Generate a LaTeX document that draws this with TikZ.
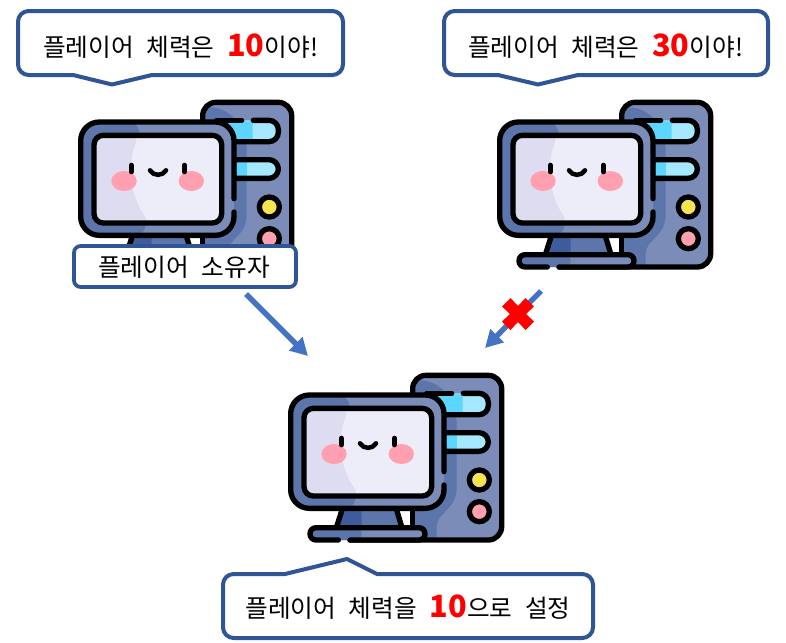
\documentclass[tikz,border=0pt]{standalone}
\usepackage{fontspec}
\usetikzlibrary{arrows.meta}
\setmainfont[WordSpace=2.3]{Noto Sans CJK KR}
\definecolor{slateL}{HTML}{7B8CB8}
\definecolor{slateD}{HTML}{5C76AB}
\definecolor{slateX}{HTML}{3E5C9C}
\definecolor{cyanL}{HTML}{A5E8FF}
\definecolor{cyanD}{HTML}{5CD5FF}
\definecolor{scrL}{HTML}{EDECF9}
\definecolor{scrD}{HTML}{DEDCF0}
\definecolor{cheek}{HTML}{FF9FB0}
\definecolor{btnY}{HTML}{F7E34F}
\definecolor{boxline}{HTML}{2F5597}
\definecolor{arrowblue}{HTML}{4472C4}
\newcommand{\bignum}[1]{{\fontsize{23}{26}\selectfont\bfseries\color{red}#1}}
\tikzset{
 ln/.style={draw=black,line width=4pt,line cap=round,line join=round},
 callout/.style={draw=boxline,line width=3pt,fill=white,line join=round},
 txt/.style={font=\fontsize{18.5}{20}\selectfont,inner sep=0pt,anchor=base},
 flowarrow/.style={draw=arrowblue,line width=4pt,-{Triangle[width=13.5pt,length=13pt]}},
 pcicon/.pic={
  \begin{scope}[x=0.25pt,y=-0.25pt]
  % tower
  \fill[slateL,rounded corners=10pt] (428,46) rectangle (695,540);
  \fill[slateD] (428,62) .. controls (500,50) and (560,110) .. (560,190) -- (560,390) .. controls (555,450) and (500,460) .. (500,500) -- (500,540) -- (428,540) -- cycle;
  % drives
  \fill[cyanL,rounded corners=5pt] (500,100) rectangle (655,164);
  \fill[cyanD] (500,103) -- (578,103) -- (578,160) -- (530,160) -- cycle;
  \fill[slateD] (500,103) -- (530,160) -- (500,160) -- cycle;
  \fill[cyanL,rounded corners=5pt] (530,218) rectangle (655,274);
  \fill[cyanD] (530,220) rectangle (560,272);
  \draw[ln,rounded corners=7pt] (580,100) -- (655,100) -- (655,164) -- (530,164);
  \draw[ln] (470,100) -- (545,100);
  \draw[ln,rounded corners=7pt] (530,218) -- (655,218) -- (655,274) -- (530,274);
  % buttons
  \draw[ln,fill=btnY] (628,360) circle[radius=30];
  \draw[ln,fill=cheek] (628,455) circle[radius=30];
  % tower outline
  \draw[ln,rounded corners=10pt] (428,100) -- (428,46) -- (695,46) -- (695,540) -- (240,540);
  \draw[ln] (428,445) -- (428,510);
  % stand
  \fill[slateD] (215,450) -- (380,450) -- (395,500) -- (200,500) -- cycle;
  \fill[slateX] (215,450) -- (275,450) -- (275,500) -- (200,500) -- cycle;
  \draw[ln] (216,450) -- (200,500);
  \draw[ln] (380,450) -- (395,500);
  % base
  \fill[slateL,rounded corners=4pt] (120,503) rectangle (465,540);
  \fill[slateD,rounded corners=4pt] (120,503) rectangle (275,540);
  \draw[ln,rounded corners=4.5pt] (205,540) -- (120,540) -- (120,503) -- (465,503) -- (465,540) -- (240,540);
  % monitor
  \fill[slateL,rounded corners=14pt] (62,105) rectangle (522,445);
  \fill[slateD,rounded corners=14pt] (62,105) -- (255,105) .. controls (225,180) and (215,320) .. (275,445) -- (62,445) -- cycle;
  \draw[ln,rounded corners=14pt] (522,335) -- (522,105) -- (62,105) -- (62,445) -- (522,445) -- (522,375);
  % screen
  \fill[scrL,rounded corners=7pt] (102,145) rectangle (485,408);
  \fill[scrD,rounded corners=7pt] (102,145) -- (238,145) .. controls (205,220) and (205,320) .. (270,408) -- (102,408) -- cycle;
  \draw[ln,rounded corners=7pt] (102,145) rectangle (485,408);
  % face
  \fill[cheek] (192,282) ellipse[x radius=38,y radius=30];
  \fill[cheek] (394,282) ellipse[x radius=38,y radius=30];
  \draw[ln,line width=4pt] (214,235) -- (214,254);
  \draw[ln,line width=4pt] (373,235) -- (373,254);
  \draw[ln,line width=3.4pt] (270,250) .. controls (280,268) and (308,268) .. (318,250);
  \end{scope}
 }
}
\begin{document}
\begin{tikzpicture}[x=0.75pt,y=-0.75pt]
\useasboundingbox (0,0) rectangle (786,643);
\fill[white] (0,0) rectangle (786,643);
% icons
\pic at (60,87) {pcicon};
\pic at (479,87) {pcicon};
\pic at (270,360) {pcicon};
% callouts
\draw[callout,rounded corners=8pt] (73,75) -- (18,75) -- (18,11) -- (343,11) -- (343,75) -- (200,75) [sharp corners] -- (152,75) -- (112,84.5) -- cycle;
\node[txt] (c1) at (180.5,56) {플레이어 체력은 \bignum{10}이야!};
\draw[callout,rounded corners=8pt] (498,75) -- (444,75) -- (444,11) -- (768,11) -- (768,75) -- (630,75) [sharp corners] -- (578,75) -- (538,84.5) -- cycle;
\node[txt] (c2) at (605.5,56) {플레이어 체력은 \bignum{30}이야!};
\draw[callout,rounded corners=8pt] (377,574) -- (593,574) -- (593,638) -- (223,638) -- (223,574) -- (260,574) [sharp corners] -- (285,574) -- (347,559) -- cycle;
\node[txt] (c3) at (408,617.5) {플레이어 체력을 \bignum{10}으로 설정};
% owner label
\draw[draw=boxline,line width=2.8pt,fill=white,rounded corners=5pt] (74,246) rectangle (296,287);
\node[txt] (owner) at (184,276) {플레이어 소유자};
% arrows
\coordinate (a1s) at (246,294); \coordinate (a1e) at (308,356);
\coordinate (a2s) at (541,291); \coordinate (a2e) at (485,348);
\draw[flowarrow] (a1s) -- (a1e);
\draw[flowarrow] (a2s) -- (a2e);
\fill[red] (518,314) ++(-16,-7.5) -- ++(8.5,-8.5) -- ++(7.5,8) -- ++(7.5,-8) -- ++(8.5,8.5) -- ++(-8,7.5) -- ++(8,7.5) -- ++(-8.5,8.5) -- ++(-7.5,-8) -- ++(-7.5,8) -- ++(-8.5,-8.5) -- ++(8,-7.5) -- cycle;
\end{tikzpicture}
\end{document}
